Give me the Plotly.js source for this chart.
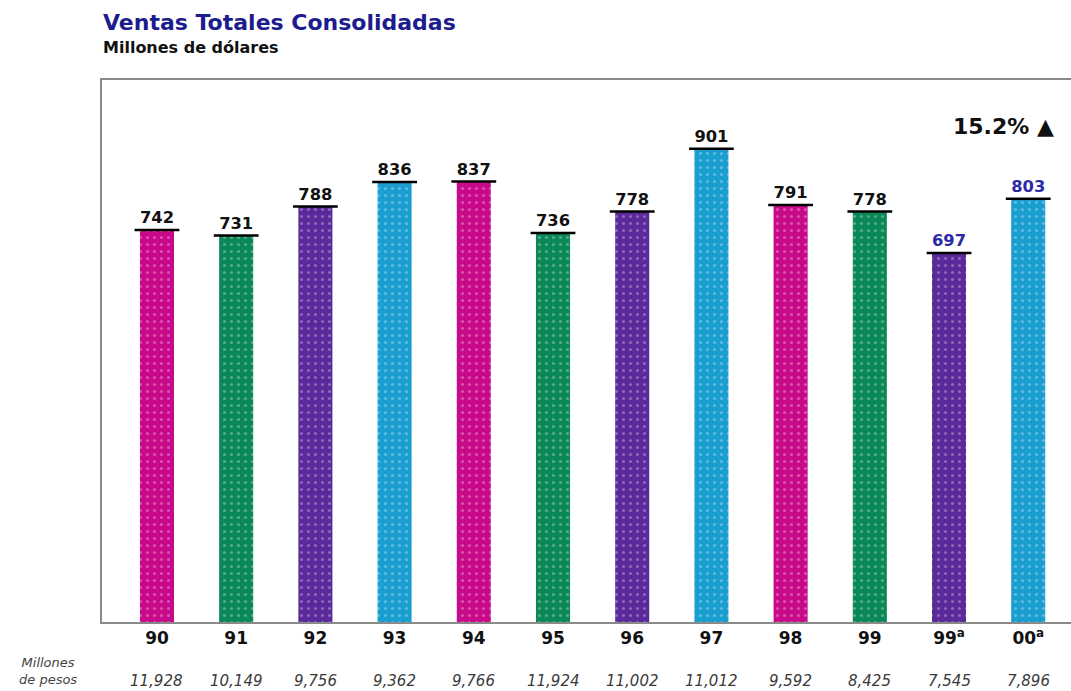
<!DOCTYPE html>
<html>
<head>
<meta charset="utf-8">
<script src="https://cdn.plot.ly/plotly-3.0.1.min.js"></script>
<style>html,body{margin:0;padding:0;background:#fff;}#chart{width:1071px;height:691px;}</style>
</head>
<body>
<div id="chart"></div>
<script>
// Data
const years = ['90','91','92','93','94','95','96','97','98','99','99<sup>a</sup>','00<sup>a</sup>'];
const ventasUSD = [742, 731, 788, 836, 837, 736, 778, 901, 791, 778, 697, 803];
const ventasPesos = ['11,928','10,149','9,756','9,362','9,766','11,924','11,002','11,012','9,592','8,425','7,545','7,896'];
const barColors = ['#c80a8a','#0b8858','#5a2a9a','#1a9ed0','#c80a8a','#0b8858','#5a2a9a','#1a9ed0','#c80a8a','#0b8858','#5a2a9a','#1a9ed0'];
const labelColors = ['#111','#111','#111','#111','#111','#111','#111','#111','#111','#111','#2a2aa8','#2a2aa8'];
const growth = '15.2% ▲';

const axisBase = -26.5;
const fontFam = 'DejaVu Sans, Verdana, sans-serif';

const bars = {
  type: 'bar',
  x: years,
  y: ventasUSD.map(v => v - axisBase),
  base: axisBase,
  width: 0.43,
  marker: {
    color: barColors,
    line: {width: 0},
    pattern: {shape: '.', fgcolor: '#000000', fgopacity: 0.3, size: 7, solidity: 0.15, fillmode: 'overlay'}
  },
  text: ventasUSD.map(String),
  textposition: 'outside',
  textfont: {family: fontFam, size: 17, color: labelColors, weight: 'bold'},
  cliponaxis: false,
  hoverinfo: 'skip'
};

const caps = {
  type: 'scatter',
  mode: 'markers',
  x: years,
  y: ventasUSD,
  marker: {symbol: 'line-ew', size: 32, line: {width: 2.5, color: '#000'}},
  hoverinfo: 'skip',
  cliponaxis: false
};

const annotations = [
  {xref: 'paper', yref: 'paper', x: -0.001, y: 1.06, xanchor: 'left', yanchor: 'middle',
   text: '<b>Millones de dólares</b>', showarrow: false,
   font: {family: fontFam, size: 16, color: '#111'}},
  {xref: 'paper', yref: 'paper', x: 0.985, y: 0.915, xanchor: 'right', yanchor: 'middle',
   text: '<b>' + growth + '</b>', showarrow: false,
   font: {family: fontFam, size: 22, color: '#111'}},
  {xref: 'paper', yref: 'paper', x: -0.056, y: -0.091, xanchor: 'center', yanchor: 'middle',
   text: '<i>Millones<br>de pesos</i>', showarrow: false,
   font: {family: fontFam, size: 13, color: '#444'}}
];
years.forEach((yr, i) => {
  annotations.push({
    x: i, xref: 'x', yref: 'paper', y: -0.109, xanchor: 'center', yanchor: 'middle',
    text: '<i>' + ventasPesos[i] + '</i>', showarrow: false,
    font: {family: fontFam, size: 15, color: '#3a3a3a'}
  });
});

const layout = {
  width: 1071, height: 691,
  margin: {l: 102, r: 0, t: 80, b: 69},
  paper_bgcolor: '#fff', plot_bgcolor: '#fff',
  showlegend: false,
  title: {
    text: '<b>Ventas Totales Consolidadas</b>',
    x: 103/1071, xanchor: 'left', xref: 'container',
    y: 1 - 22/691, yanchor: 'middle', yref: 'container',
    font: {family: fontFam, size: 22, color: '#1c1c8e'}
  },
  xaxis: {
    type: 'category',
    range: [-0.694, 11.54],
    showline: true, mirror: true, linecolor: '#8a8a8a', linewidth: 2,
    showgrid: false, zeroline: false, ticks: '',
    tickfont: {family: fontFam, size: 17, color: '#111', weight: 'bold'},
    ticklen: 0
  },
  yaxis: {
    range: [axisBase, 1036],
    showline: true, linecolor: '#8a8a8a', linewidth: 2,
    showgrid: false, zeroline: false, showticklabels: false, ticks: ''
  },
  annotations: annotations,
  bargap: 0.5
};

Plotly.newPlot('chart', [bars, caps], layout, {displayModeBar: false, staticPlot: true});
</script>
</body>
</html>
